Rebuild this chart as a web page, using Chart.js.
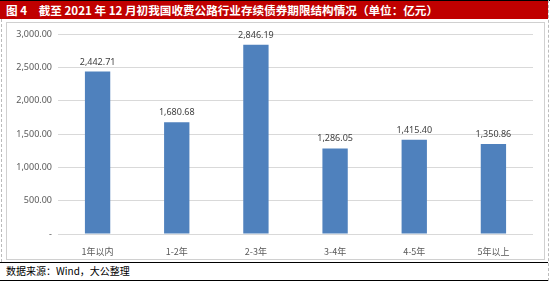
<!DOCTYPE html>
<html>
<head>
<meta charset="utf-8">
<script src="https://cdn.jsdelivr.net/npm/chart.js@4.4.1/dist/chart.umd.min.js"></script>
<style>
  body { margin: 0; width: 550px; height: 281px; position: relative; background: #fff; overflow: hidden; font-family: "Noto Sans CJK SC", sans-serif; }
  #topline { position: absolute; left: 0; top: 0; width: 550px; height: 1px; background: #000; }
  #titulo { position: absolute; left: 0; top: 1px; width: 548px; height: 18px; background: #C00000; color: #fff; font-size: 11.6px; font-weight: bold; line-height: 18px; padding-left: 6px; box-sizing: border-box; white-space: nowrap; }
  #moldura { position: absolute; left: 6px; top: 22px; width: 539px; height: 238px; border: 1px solid #d0d0d0; box-sizing: border-box; }
  #tracejado-e { position: absolute; left: 1px; top: 19px; width: 0; height: 243px; border-left: 1px dashed #bbb; }
  #tracejado-d { position: absolute; left: 548px; top: 0; width: 0; height: 281px; border-left: 1px dashed #bbb; }
  #linha-fonte { position: absolute; left: 0; top: 262px; width: 548px; height: 1px; background: #000; }
  #fonte { position: absolute; left: 6px; top: 263px; font-size: 10px; line-height: 16px; color: #000; white-space: nowrap; }
  #linha-fim { position: absolute; left: 0; top: 280px; width: 548px; height: 1px; background: #000; }
  #caixa { position: absolute; left: 7px; top: 23px; width: 537px; height: 236px; }
</style>
</head>
<body>
<div id="topline"></div>
<div id="titulo">图 4　截至 2021 年 12 月初我国收费公路行业存续债券期限结构情况（单位：亿元）</div>
<div id="tracejado-e"></div>
<div id="tracejado-d"></div>
<div id="moldura"></div>
<div id="caixa"><canvas id="grafico"></canvas></div>
<div id="linha-fonte"></div>
<div id="fonte">数据来源：Wind，大公整理</div>
<div id="linha-fim"></div>
<script>
// dados do gráfico
const categorias = ['1年以内', '1-2年', '2-3年', '3-4年', '4-5年', '5年以上'];
const valores = [2442.71, 1680.68, 2846.19, 1286.05, 1415.40, 1350.86];
const ticksEixoY = [0, 500, 1000, 1500, 2000, 2500, 3000];

function formatar(v) {
    if (v === 0) return '-';
    return v.toLocaleString('en-US', { minimumFractionDigits: 2, maximumFractionDigits: 2 });
}

// escreve o valor em cima de cada barra
const rotulosBarras = {
    id: 'rotulosBarras',
    afterDatasetsDraw(chart) {
        const ctx = chart.ctx;
        const meta = chart.getDatasetMeta(0);
        ctx.save();
        ctx.font = '9px "Noto Sans", sans-serif';
        ctx.fillStyle = '#404040';
        ctx.textAlign = 'center';
        ctx.textBaseline = 'bottom';
        meta.data.forEach((barra, i) => {
            ctx.fillText(formatar(valores[i]), barra.x, barra.y - 5);
        });
        ctx.restore();
    }
};

new Chart(document.getElementById('grafico'), {
    type: 'bar',
    data: {
        labels: categorias,
        datasets: [{
            data: valores,
            backgroundColor: '#4F81BD',
            categoryPercentage: 1,
            barPercentage: 0.32
        }]
    },
    options: {
        responsive: true,
        maintainAspectRatio: false,
        animation: false,
        layout: { padding: { top: 11, right: 11, left: 0, bottom: 0 } },
        plugins: { legend: { display: false }, tooltip: { enabled: false } },
        scales: {
            x: {
                grid: { display: false },
                border: { display: false },
                ticks: { color: '#595959', font: { size: 9, family: '"Noto Sans CJK SC", sans-serif' }, padding: 4, maxRotation: 0 },
                afterFit: s => { s.height = 25; }
            },
            y: {
                min: 0,
                max: 3000,
                afterBuildTicks: s => { s.ticks = ticksEixoY.map(v => ({ value: v })); },
                grid: { color: '#d9d9d9', drawTicks: false },
                border: { display: false },
                ticks: { color: '#595959', font: { size: 9, family: '"Noto Sans", sans-serif' }, padding: 6, callback: v => formatar(v) },
                afterFit: s => { s.width = 51; }
            }
        }
    },
    plugins: [rotulosBarras]
});
</script>
</body>
</html>
